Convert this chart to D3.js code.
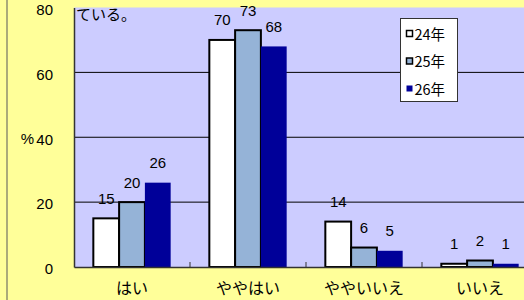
<!DOCTYPE html>
<html><head><meta charset="utf-8">
<script src="https://cdn.jsdelivr.net/npm/d3@7"></script>
<style>body{margin:0;background:#FFFF99;} svg{display:block;}</style>
</head><body>
<script>
const categories = ["はい", "ややはい", "ややいいえ", "いいえ"];
const seriesNames = ["24年", "25年", "26年"];
const values24 = [15, 70, 14, 1];
const values25 = [20, 73, 6, 2];
const values26 = [26, 68, 5, 1];
const yTicks = [0, 20, 40, 60, 80];
const colors = ["#FFFFFF", "#95B3D7", "#000099"];
const series = [values24, values25, values26];

const W = 524, H = 300;
const svg = d3.select("body").append("svg").attr("width", W).attr("height", H);
const jp = "'Noto Sans CJK JP', sans-serif";
const num = "'Liberation Sans', Arial, sans-serif";

svg.append("rect").attr("width", W).attr("height", H).attr("fill", "#FFFF99");
svg.append("line").attr("x1", 7).attr("x2", 7).attr("y1", 0).attr("y2", H).attr("stroke", "#8F8F6F").attr("stroke-width", 1.5);

const x0 = 74, x1 = 538, yTop = 7.5, yBot = 267;
const x = d3.scaleBand().domain(categories).range([x0, x1]).paddingInner(0).paddingOuter(0);
const xs = d3.scaleBand().domain(seriesNames).range([0, x.bandwidth()]).paddingInner(0).paddingOuter(0.75);
const y = d3.scaleLinear().domain([0, 80]).range([yBot, yTop]);

svg.append("rect").attr("x", x0).attr("y", yTop).attr("width", W - x0).attr("height", yBot - yTop).attr("fill", "#CCCCFF");

// gridlines
svg.append("g").selectAll("line").data(yTicks.filter(d => d > 0 && d < 80)).join("line")
  .attr("x1", x0).attr("x2", W).attr("y1", d => y(d)).attr("y2", d => y(d))
  .attr("stroke", "#000").attr("stroke-width", 1);

// y axis
const yAxis = d3.axisLeft(y).tickValues(yTicks).tickSize(0).tickPadding(21);
const gy = svg.append("g").attr("transform", `translate(${x0},0)`).call(yAxis);
gy.select(".domain").attr("stroke", "#333").attr("stroke-width", 1.5);
gy.selectAll("text").attr("font-family", num).attr("font-size", 15).attr("fill", "#000").attr("dy", "0.45em");
svg.append("text").attr("x", 34).attr("y", y(40) + 6.5).attr("text-anchor", "end")
  .attr("font-family", num).attr("font-size", 15).text("%");

// bars
const groups = svg.append("g").selectAll("g").data(categories).join("g")
  .attr("transform", d => `translate(${x(d)},0)`);
groups.each(function(cat, ci) {
  const g = d3.select(this);
  seriesNames.forEach((s, si) => {
    const v = series[si][ci];
    g.append("rect").attr("x", xs(s)).attr("y", y(v)).attr("width", xs.bandwidth()).attr("height", yBot - y(v))
      .attr("fill", colors[si]).attr("stroke", si < 2 ? "#000" : "none").attr("stroke-width", 2);
    g.append("text").attr("x", xs(s) + xs.bandwidth() / 2).attr("y", y(v) - 14.5)
      .attr("text-anchor", "middle").attr("font-family", num).attr("font-size", 15).text(v);
  });
});

// x axis
const xAxis = d3.axisBottom(x).tickSize(0).tickPadding(16);
const gx = svg.append("g").attr("transform", `translate(0,${yBot})`).call(xAxis);
gx.select(".domain").attr("stroke", "#333").attr("stroke-width", 1.5);
gx.selectAll("text").attr("font-family", jp).attr("font-size", 16).attr("fill", "#000");
svg.append("g").selectAll("line").data(categories.slice(1)).join("line")
  .attr("x1", d => x(d)).attr("x2", d => x(d)).attr("y1", yBot - 5).attr("y2", yBot).attr("stroke", "#333");

// truncated title fragment
svg.append("text").attr("x", 76).attr("y", 19.5).attr("font-family", jp).attr("font-size", 15).text("ている。");

// legend
const lg = svg.append("g").attr("transform", "translate(400.5,18.5)");
lg.append("rect").attr("width", 57).attr("height", 83).attr("fill", "#fff").attr("stroke", "#333");
seriesNames.forEach((s, i) => {
  const cy = 15.5 + i * 27.5;
  lg.append("rect").attr("x", 6).attr("y", cy - 3.5).attr("width", 6).attr("height", 6)
    .attr("fill", colors[i]).attr("stroke", i < 2 ? "#000" : "none").attr("stroke-width", 1.5);
  lg.append("text").attr("x", 14).attr("y", cy + 5.5).attr("font-family", jp).attr("font-size", 14.5).text(s);
});
</script>
</body></html>
